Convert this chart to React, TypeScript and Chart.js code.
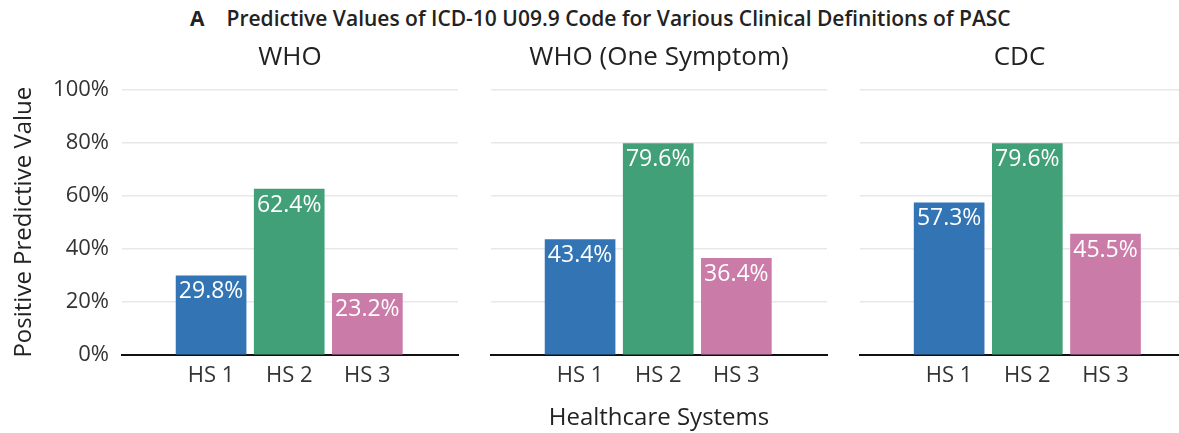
import React, { useEffect, useRef } from "react";
import { Chart, registerables } from "chart.js";

Chart.register(...registerables);

const categories = ["HS 1", "HS 2", "HS 3"];
const panelTitles = ["WHO", "WHO (One Symptom)", "CDC"];
const whoValues = [29.8, 62.4, 23.2];
const whoOneSymptomValues = [43.4, 79.6, 36.4];
const cdcValues = [57.3, 79.6, 45.5];
const yTicks = [0, 20, 40, 60, 80, 100];
const barColors = ["#3274B4", "#41A078", "#CB7BA8"];

const FONT = '"Open Sans", "Noto Sans", sans-serif';

const valueLabels = {
  id: "valueLabels",
  afterDatasetsDraw(chart: any) {
    const ctx = chart.ctx;
    chart.data.datasets.forEach((ds: any, i: number) => {
      const meta = chart.getDatasetMeta(i);
      meta.data.forEach((bar: any, j: number) => {
        const v = ds.data[j].y;
        ctx.save();
        ctx.fillStyle = "#ffffff";
        ctx.font = `23px ${FONT}`;
        ctx.textAlign = "center";
        ctx.textBaseline = "middle";
        ctx.fillText(v.toFixed(1) + "%", bar.x, bar.y + 16);
        ctx.restore();
      });
    });
  },
};

type PanelProps = {
  title: string;
  values: number[];
  left: number;
  width: number;
  padLeft: number;
  padRight: number;
  yAxisWidth: number;
  showY: boolean;
  showXTitle: boolean;
  xMin: number;
  xMax: number;
};

function Panel(p: PanelProps) {
  const ref = useRef<HTMLCanvasElement>(null);
  useEffect(() => {
    const chart = new Chart(ref.current as HTMLCanvasElement, {
      type: "bar",
      data: {
        datasets: [
          {
            data: p.values.map((v, i) => ({ x: i + 1, y: v })),
            backgroundColor: barColors,
            borderWidth: 0,
            barThickness: 70,
          } as any,
        ],
      },
      plugins: [valueLabels],
      options: {
        responsive: false,
        animation: false,
        layout: { padding: { top: 42.3, left: p.padLeft, right: p.padRight, bottom: 0 } },
        plugins: {
          legend: { display: false },
          tooltip: { enabled: false },
          title: {
            display: true,
            text: p.title,
            fullSize: false,
            color: "#222222",
            font: { family: FONT, size: 26, weight: "normal", lineHeight: 1.2 },
            padding: { top: 0, bottom: 15.8 },
          },
        },
        scales: {
          x: {
            type: "linear",
            min: p.xMin,
            max: p.xMax,
            offset: false,
            afterBuildTicks: (scale: any) => {
              scale.ticks = categories.map((_, i) => ({ value: i + 1 }));
            },
            afterFit: (scale: any) => {
              scale.height = 433 - 355;
            },
            ticks: {
              autoSkip: false,
              maxRotation: 0,
              padding: 8,
              color: "#333333",
              font: { family: FONT, size: 22 },
              callback: (v: any) => categories[Number(v) - 1] ?? "",
            },
            grid: { display: false, drawTicks: false },
            border: { display: true, color: "#111111", width: 2 },
            title: {
              display: p.showXTitle,
              text: "Healthcare Systems",
              color: "#222222",
              font: { family: FONT, size: 24 },
              padding: { top: 0, bottom: 0 },
            },
          },
          y: {
            min: 0,
            max: 100,
            afterBuildTicks: (scale: any) => {
              scale.ticks = yTicks.map((v) => ({ value: v }));
            },
            afterFit: (scale: any) => {
              scale.width = p.yAxisWidth;
            },
            ticks: {
              display: p.showY,
              padding: 13,
              color: "#333333",
              font: { family: FONT, size: 22 },
              callback: (v: any) => v + "%",
            },
            grid: {
              drawTicks: false,
              lineWidth: 1.5,
              color: (c: any) => (c.tick && c.tick.value === 0 ? "rgba(0,0,0,0)" : "#E8E8E8"),
            },
            border: { display: false },
            title: {
              display: p.showY,
              text: "Positive Predictive Value",
              color: "#222222",
              font: { family: FONT, size: 24 },
              padding: { top: 9.6, bottom: 0 },
            },
          },
        },
      } as any,
    });
    return () => chart.destroy();
  }, []);
  return (
    <canvas
      ref={ref}
      width={p.width}
      height={433}
      style={{ position: "absolute", left: p.left, top: 0, width: p.width, height: 433, display: "block" }}
    />
  );
}

export default function App() {
  return (
    <div
      style={{
        position: "absolute",
        left: 0,
        top: 0,
        width: 1179,
        height: 433,
        background: "#ffffff",
        overflow: "hidden",
      }}
    >
      <div
        style={{
          position: "absolute",
          left: 190,
          top: 4,
          whiteSpace: "nowrap",
          fontFamily: '"Open Sans", sans-serif',
          fontWeight: 600,
          fontSize: 21,
          color: "#222222",
          lineHeight: "28px",
        }}
      >
        <span style={{ fontWeight: 700, marginRight: 22 }}>A</span>
        <span>Predictive Values of ICD-10 U09.9 Code for Various Clinical Definitions of PASC</span>
      </div>
      <Panel title={panelTitles[0]} values={whoValues} left={0} width={470} padLeft={0} padRight={12} yAxisWidth={122} showY={true} showXTitle={false} xMin={-0.14} xMax={4.16} />
      <Panel title={panelTitles[1]} values={whoOneSymptomValues} left={485} width={350} padLeft={6} padRight={8} yAxisWidth={0} showY={false} showXTitle={true} xMin={-0.14} xMax={4.16} />
      <Panel title={panelTitles[2]} values={cdcValues} left={855} width={324} padLeft={5} padRight={0} yAxisWidth={0} showY={false} showXTitle={false} xMin={-0.14} xMax={3.94} />
    </div>
  );
}
